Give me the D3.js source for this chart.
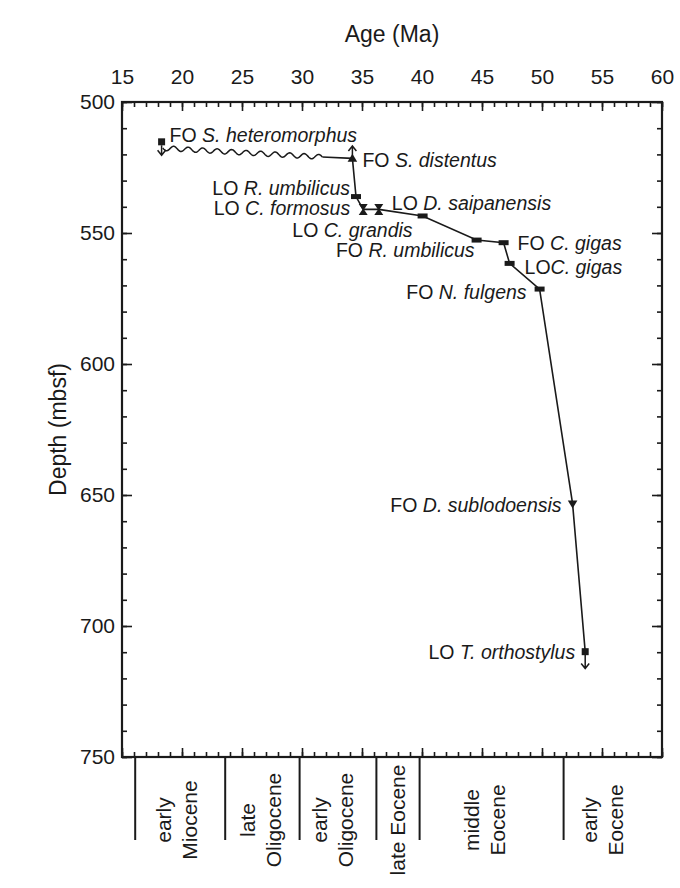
<!DOCTYPE html>
<html>
<head>
<meta charset="utf-8">
<script src="https://cdn.jsdelivr.net/npm/d3@7"></script>
<style>
  body { margin: 0; background: #fff; }
  text { font-family: "Liberation Sans", Arial, Helvetica, sans-serif; fill: #1a1a1a; }
</style>
</head>
<body>
<div id="chart"></div>
<script>
// datum events: age (Ma) vs depth (mbsf)
const eventPrefix = ['FO ', 'FO ', 'LO ', 'LO ', 'LO ', 'LO ', 'FO ', 'FO ', 'LO', 'FO ', 'FO ', 'LO '];
const eventSpecies = ['S. heteromorphus', 'S. distentus', 'R. umbilicus', 'C. formosus', 'D. saipanensis',
  'C. grandis', 'R. umbilicus', 'C. gigas', 'C. gigas', 'N. fulgens', 'D. sublodoensis', 'T. orthostylus'];
const eventAges = [18.3, 34.2, 34.5, 35.1, 36.4, 40.05, 44.55, 46.8, 47.3, 49.8, 52.55, 53.6];
const eventDepths = [515.2, 521.5, 536.1, 541.0, 541.0, 543.5, 552.7, 553.7, 561.6, 571.4, 653.4, 709.8];
const eventMarkers = ['square', 'triUp', 'bar', 'hourglass', 'hourglass', 'bar', 'bar', 'bar', 'bar', 'bar', 'triDown', 'square'];

// hiatus (wavy) segment between these two ages/depths
const hiatusAges = [18.4, 31.7];
const hiatusDepths = [517.6, 521.0];

// range arrows: age, depth at base, depth at tip
const arrowAges = [18.3, 34.2, 53.6];
const arrowFrom = [516.5, 521.0, 711.0];
const arrowTo = [520.3, 516.8, 716.2];

// epoch boundaries (Ma) and names
const epochBounds = [16.1, 23.6, 29.8, 36.2, 39.8, 51.8];
const epochNames = [['early', 'Miocene'], ['late', 'Oligocene'], ['early', 'Oligocene'],
  ['late Eocene'], ['middle', 'Eocene'], ['early', 'Eocene']];
const epochEdges = [16.1, 23.6, 29.8, 36.2, 39.8, 51.8, 60];

const ageTicks = d3.range(15, 61, 5);
const depthTicks = d3.range(500, 751, 50);

// label placement (layout only): [dx, dy, side]
const labelLayout = [[8, -7, 'r'], [10, 2, 'r'], [-6, -8, 'l'], [-13, -1, 'l'], [13, -6, 'r'], [-10, 14, 'l'],
  [-2, 10, 'l'], [14, 0, 'r'], [15, 4, 'r'], [-13, 3, 'l'], [-11, 1, 'l'], [-10, 0, 'l']];
// horizontal shift of each epoch label block (px)
const epochShift = [-4, -2, -5, 0, -7, -10];

//Step 1: Setup chart
let svgWidth = 680;
let svgHeight = 888;
let margin = { top: 102, right: 18, bottom: 131, left: 122 };
let width = svgWidth - margin.left - margin.right;
let height = svgHeight - margin.top - margin.bottom;

let svg = d3.select('#chart')
  .append('svg')
  .attr('width', svgWidth)
  .attr('height', svgHeight);

let chartGroup = svg.append('g')
  .attr('transform', `translate(${margin.left},${margin.top})`);

//Step 2: Scales
let x = d3.scaleLinear().domain([15, 60]).range([0, width]);
let y = d3.scaleLinear().domain([500, 750]).range([0, height]);

//Step 3: Axes (ticks point inward)
function styleAxis(g) {
  g.select('.domain').remove();
  g.selectAll('line').attr('stroke', '#1a1a1a').attr('stroke-width', 1.6);
}
const minorAge = d3.range(15, 61, 1);
const minorDepth = d3.range(500, 751, 10);

chartGroup.append('g').call(d3.axisTop(x).tickValues(minorAge).tickSize(-5).tickFormat('')).call(styleAxis);
chartGroup.append('g').attr('transform', `translate(0,${height})`)
  .call(d3.axisBottom(x).tickValues(minorAge).tickSize(-5).tickFormat('')).call(styleAxis);
chartGroup.append('g').call(d3.axisLeft(y).tickValues(minorDepth).tickSize(-5).tickFormat('')).call(styleAxis);
chartGroup.append('g').attr('transform', `translate(${width},0)`)
  .call(d3.axisRight(y).tickValues(minorDepth).tickSize(-5).tickFormat('')).call(styleAxis);

let topAxis = chartGroup.append('g')
  .call(d3.axisTop(x).tickValues(ageTicks).tickSize(-9).tickPadding(18).tickFormat(d3.format('d')))
  .call(styleAxis);
topAxis.selectAll('text').attr('font-size', 21).style('fill', '#1a1a1a');

chartGroup.append('g').attr('transform', `translate(0,${height})`)
  .call(d3.axisBottom(x).tickValues(ageTicks).tickSize(-9).tickFormat('')).call(styleAxis);

let leftAxis = chartGroup.append('g')
  .call(d3.axisLeft(y).tickValues(depthTicks).tickSize(-10).tickPadding(7).tickFormat(d3.format('d')))
  .call(styleAxis);
leftAxis.selectAll('text').attr('font-size', 21).style('fill', '#1a1a1a');

chartGroup.append('g').attr('transform', `translate(${width},0)`)
  .call(d3.axisRight(y).tickValues(depthTicks).tickSize(-10).tickFormat('')).call(styleAxis);

// frame
chartGroup.append('rect')
  .attr('width', width).attr('height', height)
  .attr('fill', 'none').attr('stroke', '#1a1a1a').attr('stroke-width', 2.2);

//Step 4: Axis titles
svg.append('text')
  .attr('x', margin.left + width / 2).attr('y', 42)
  .attr('text-anchor', 'middle').attr('font-size', 23)
  .text('Age (Ma)');

svg.append('text')
  .attr('transform', `translate(58,${margin.top + height / 2}) rotate(-90)`)
  .attr('text-anchor', 'middle').attr('dy', '0.35em').attr('font-size', 23)
  .text('Depth (mbsf)');

//Step 5: Epoch boundaries and labels
let epochGroup = chartGroup.append('g').attr('transform', `translate(0,${height})`);
epochGroup.selectAll('line')
  .data(epochBounds)
  .enter()
  .append('line')
  .attr('x1', d => x(d)).attr('x2', d => x(d))
  .attr('y1', 0).attr('y2', 83)
  .attr('stroke', '#1a1a1a').attr('stroke-width', 2);

epochNames.forEach((lines, i) => {
  let mid = (x(epochEdges[i]) + x(epochEdges[i + 1])) / 2 + epochShift[i];
  let n = lines.length;
  lines.forEach((t, j) => {
    let cx = mid + (j - (n - 1) / 2) * 26;
    epochGroup.append('text')
      .attr('transform', `translate(${cx},63) rotate(-90)`)
      .attr('text-anchor', 'middle').attr('dy', '0.35em')
      .attr('font-size', 21)
      .text(t);
  });
});

//Step 6: Age-depth line
let events = eventAges.map((a, i) => ({ age: a, depth: eventDepths[i], marker: eventMarkers[i], i: i }));

let line = d3.line().x(d => x(d.age)).y(d => y(d.depth));
chartGroup.append('path')
  .datum(events.slice(1))
  .attr('d', line)
  .attr('fill', 'none').attr('stroke', '#1a1a1a').attr('stroke-width', 1.6);

// straight piece from end of hiatus to FO S. distentus
chartGroup.append('path')
  .datum([{ age: hiatusAges[1], depth: hiatusDepths[1] }, events[1]])
  .attr('d', line)
  .attr('fill', 'none').attr('stroke', '#1a1a1a').attr('stroke-width', 1.6);

// wavy hiatus line
let hx0 = x(hiatusAges[0]), hy0 = y(hiatusDepths[0]);
let hx1 = x(hiatusAges[1]), hy1 = y(hiatusDepths[1]);
let wavePts = d3.range(0, 1.0001, 0.005).map(t => {
  let px = hx0 + (hx1 - hx0) * t;
  let py = hy0 + (hy1 - hy0) * t + 2.4 * Math.sin(t * 11 * 2 * Math.PI);
  return [px, py];
});
chartGroup.append('path')
  .attr('d', d3.line()(wavePts))
  .attr('fill', 'none').attr('stroke', '#1a1a1a').attr('stroke-width', 1.5);

// range arrows
arrowAges.forEach((a, i) => {
  let ax = x(a), y0 = y(arrowFrom[i]), y1 = y(arrowTo[i]);
  let dir = y1 > y0 ? -1 : 1;
  chartGroup.append('path')
    .attr('d', `M${ax},${y0}L${ax},${y1}M${ax - 4},${y1 + dir * 5}L${ax},${y1}L${ax + 4},${y1 + dir * 5}`)
    .attr('fill', 'none').attr('stroke', '#1a1a1a').attr('stroke-width', 1.5);
});

//Step 7: Markers
const markerPaths = {
  square: 'M-3.5,-3.5H3.5V3.5H-3.5Z',
  bar: 'M-5,-2.5H5V2.5H-5Z',
  triUp: 'M0,-4.5L4.8,3.5L-4.8,3.5Z',
  triDown: 'M-4.8,-3.5L4.8,-3.5L0,4.5Z',
  hourglass: 'M-4.5,-5.5H4.5L0.8,0L4.5,5.5H-4.5L-0.8,0Z'
};
chartGroup.selectAll('.marker')
  .data(events)
  .enter()
  .append('path')
  .attr('class', 'marker')
  .attr('transform', d => `translate(${x(d.age)},${y(d.depth)})`)
  .attr('d', d => markerPaths[d.marker])
  .attr('fill', '#1a1a1a');

//Step 8: Event labels
events.forEach(d => {
  let lay = labelLayout[d.i];
  let t = chartGroup.append('text')
    .attr('x', x(d.age) + lay[0])
    .attr('y', y(d.depth) + lay[1])
    .attr('dy', '0.35em')
    .attr('text-anchor', lay[2] === 'r' ? 'start' : 'end')
    .attr('font-size', 19.5);
  t.append('tspan').text(eventPrefix[d.i]);
  t.append('tspan').attr('font-style', 'italic').text(eventSpecies[d.i]);
});
</script>
</body>
</html>
